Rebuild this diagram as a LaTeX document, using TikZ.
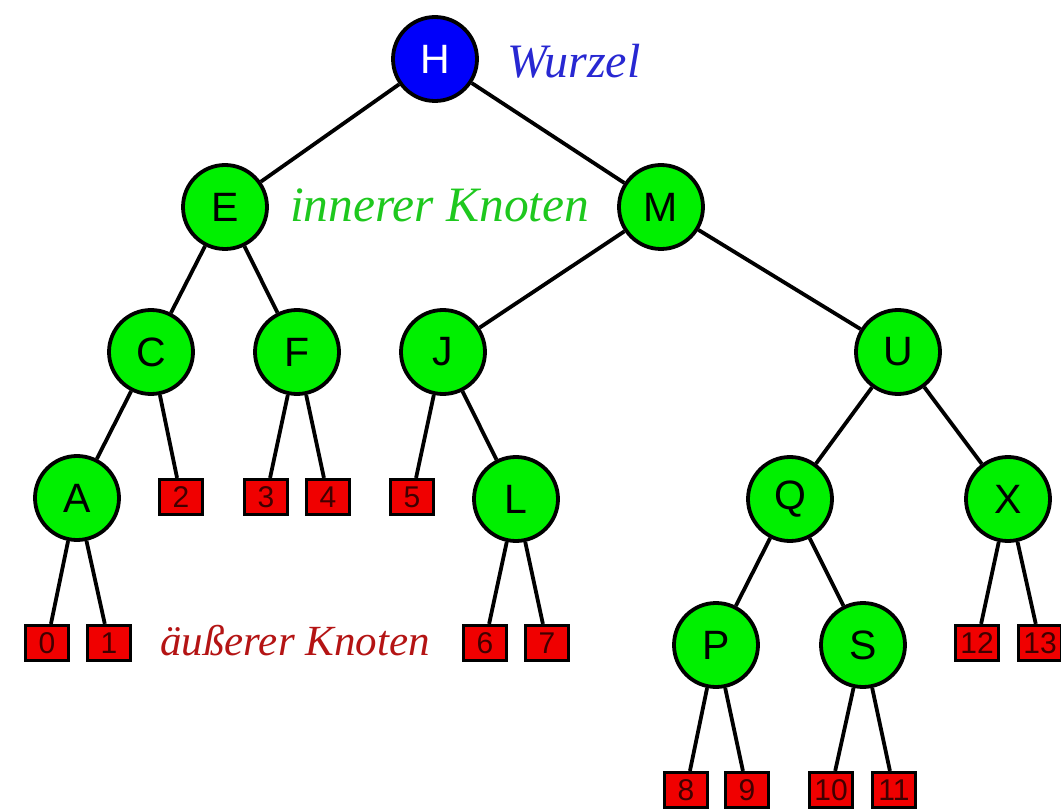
\documentclass[tikz,border=0pt]{standalone}
\usepackage{fontspec}
\setmainfont{Liberation Serif}
\newfontfamily\nodefont{Liberation Sans}
\definecolor{nodegreen}{RGB}{0,240,0}
\definecolor{rootblue}{RGB}{0,0,250}
\definecolor{leafred}{RGB}{240,0,0}
\definecolor{lblblue}{RGB}{40,40,210}
\definecolor{lblgreen}{RGB}{30,200,30}
\definecolor{lblred}{RGB}{180,20,20}
\begin{document}
\begin{tikzpicture}[x=1pt,y=-1pt,
  inner/.style={circle,draw=black,line width=3.8pt,fill=nodegreen,minimum size=84pt,inner sep=0pt,font=\nodefont\fontsize{41}{41}\selectfont},
  rootnode/.style={inner,fill=rootblue,text=white},
  leaf/.style={rectangle,draw=black,line width=3.2pt,fill=leafred,minimum width=43pt,minimum height=35pt,inner sep=0pt,font=\nodefont\fontsize{30}{30}\selectfont,text=black!75!red},
  edge/.style={draw=black,line width=3.8pt},
  lbl/.style={inner sep=0pt,anchor=base west}]
\useasboundingbox (0,0) rectangle (1061,810);
% inner nodes
\node[rootnode] (H) at (435,59) {H};
\node[inner] (E) at (225,207) {E};
\node[inner] (M) at (661,207) {M};
\node[inner] (C) at (151,352) {C};
\node[inner] (F) at (297,352) {F};
\node[inner] (J) at (443,352) {J};
\node[inner] (U) at (898,352) {U};
\node[inner] (A) at (77,498) {A};
\node[inner] (L) at (516,499) {L};
\node[inner] (Q) at (790,499) {Q};
\node[inner] (X) at (1008,499) {X};
\node[inner] (P) at (716,645) {P};
\node[inner] (S) at (863,645) {S};
% leaves
\node[leaf] (l2) at (181,497) {2};
\node[leaf] (l3) at (266,497) {3};
\node[leaf] (l4) at (328,497) {4};
\node[leaf] (l5) at (412,497) {5};
\node[leaf] (l0) at (47,643) {0};
\node[leaf] (l1) at (109,643) {1};
\node[leaf] (l6) at (485,643) {6};
\node[leaf] (l7) at (547,643) {7};
\node[leaf] (l12) at (977,643) {12};
\node[leaf] (l13) at (1040,643) {13};
\node[leaf] (l8) at (686,790) {8};
\node[leaf] (l9) at (747,790) {9};
\node[leaf] (l10) at (831,790) {10};
\node[leaf] (l11) at (894,790) {11};
% edges
\path[edge] (H) -- (E) (H) -- (M)
  (E) -- (C) (E) -- (F)
  (M) -- (J) (M) -- (U)
  (C) -- (A) (C) -- (l2)
  (F) -- (l3) (F) -- (l4)
  (J) -- (l5) (J) -- (L)
  (U) -- (Q) (U) -- (X)
  (A) -- (l0) (A) -- (l1)
  (L) -- (l6) (L) -- (l7)
  (Q) -- (P) (Q) -- (S)
  (X) -- (l12) (X) -- (l13)
  (P) -- (l8) (P) -- (l9)
  (S) -- (l10) (S) -- (l11);
% labels
\node[lbl,text=lblblue,font=\fontsize{48}{48}\selectfont\itshape] (wurzel) at (507,78) {Wurzel};
\node[lbl,text=lblgreen,font=\fontsize{49.5}{49.5}\selectfont\itshape] (innerer) at (290,222) {innerer Knoten};
\node[lbl,text=lblred,font=\fontsize{43}{43}\selectfont\itshape] (aeusserer) at (160,655) {äußerer Knoten};
\end{tikzpicture}
\end{document}
